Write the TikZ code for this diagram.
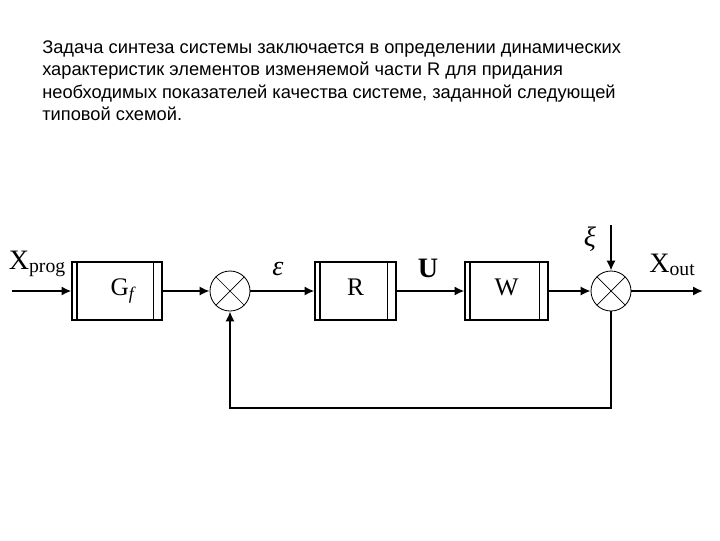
\documentclass[tikz,border=0pt]{standalone}
\usepackage{fontspec}
\setmainfont{Liberation Serif}
\newfontfamily\txtfont{Liberation Sans}
\usetikzlibrary{arrows.meta, positioning, calc}

\begin{document}
\begin{tikzpicture}[x=0.025cm, y=-0.025cm,
    blk/.style={draw, rectangle, line width=0.8pt, minimum width=#1, minimum height=1.45cm, inner sep=0pt,
      font=\fontsize{18}{18}\selectfont,
      path picture={
        \draw[line width=0.8pt] ([xshift=0.125cm]path picture bounding box.north west) -- ([xshift=0.125cm]path picture bounding box.south west);
        \draw[line width=0.8pt] ([xshift=-0.22cm]path picture bounding box.north east) -- ([xshift=-0.22cm]path picture bounding box.south east);}},
    sum/.style={draw, circle, minimum size=1cm, inner sep=0pt, line width=0.6pt,
      path picture={
        \draw[line width=0.5pt] (path picture bounding box.north west) -- (path picture bounding box.south east);
        \draw[line width=0.5pt] (path picture bounding box.north east) -- (path picture bounding box.south west);}},
    sig/.style={line width=1.8pt, -{Latex[length=7pt, width=6.5pt]}},
    lbl/.style={inner sep=0pt, font=\fontsize{20}{20}\selectfont}]
  \useasboundingbox (0,0) rectangle (720,540);

  % task statement
  \node[anchor=north west, inner sep=0pt, align=left, font=\txtfont\fontsize{13}{16}\selectfont] (task) at (42,40)
    {Задача синтеза системы заключается в определении динамических\\
     характеристик элементов изменяемой части R для придания\\
     необходимых показателей качества системе, заданной следующей\\
     типовой схемой.};

  % blocks
  \node[blk=2.25cm] (gf) at (117,291) {\raisebox{6pt}{\hspace{8pt}G\textsubscript{\itshape f}}};
  \node[sum] (s1) at (230,291) {};
  \node[blk=2.025cm] (r) at (355.5,291) {\raisebox{6pt}{R}};
  \node[blk=2.075cm] (w) at (506.5,291) {\raisebox{6pt}{W}};
  \node[sum] (s2) at (611,291) {};

  \coordinate (in) at (12,291);
  \coordinate (out) at (703,291);
  \coordinate (xitop) at (611,225);
  \coordinate (c1) at (611,408);
  \coordinate (c2) at (230,408);

  % signals
  \draw[sig] (in) -- (gf);
  \draw[sig] (gf) -- (s1);
  \draw[sig] (s1) -- (r);
  \draw[sig] (r) -- (w);
  \draw[sig] (w) -- (s2);
  \draw[sig] (xitop) -- (s2);
  \draw[sig] (s2) -- (out);
  \draw[sig] (s2) -- (c1) -- (c2) -- (s1);

  % labels
  \node[lbl] (xprog) at (37,264) {X\raisebox{-2pt}{\fontsize{14}{14}\selectfont prog}};
  \node[lbl] (eps) at (278,269) {\itshape ε};
  \node[lbl, font=\fontsize{20}{20}\selectfont\bfseries] (u) at (428,268) {U};
  \node[lbl] (xi) at (590,239) {\itshape ξ};
  \node[lbl] (xout) at (672,265) {X\raisebox{-2pt}{\fontsize{14}{14}\selectfont out}};
\end{tikzpicture}
\end{document}
